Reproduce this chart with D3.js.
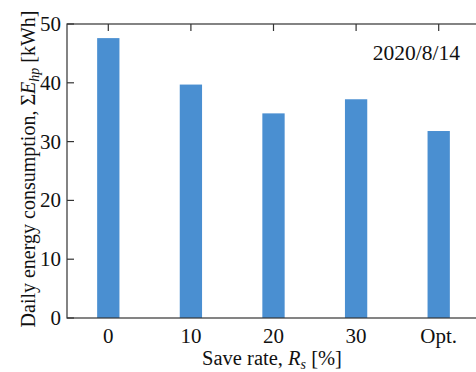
<!DOCTYPE html>
<html>
<head>
<meta charset="utf-8">
<script src="https://cdn.jsdelivr.net/npm/d3@7"></script>
<style>
  body { margin: 0; background: #fff; }
  svg text { font-family: "Liberation Serif", "DejaVu Serif", serif; fill: #111; }
</style>
</head>
<body>
<div id="chart"></div>
<script>
const categories = ['0', '10', '20', '30', 'Opt.'];
const energy = [47.6, 39.7, 34.8, 37.2, 31.8];
const yTicks = [0, 10, 20, 30, 40, 50];
const dateLabel = '2020/8/14';

const width = 476, height = 372;
const margin = { left: 67, top: 24, right: -4, bottom: 54 };
const barColor = '#4a8fd1';

const svg = d3.select('#chart').append('svg')
    .attr('width', width)
    .attr('height', height);

const x = d3.scaleBand()
    .domain(categories)
    .range([margin.left, width - margin.right])
    .paddingInner(0.73)
    .paddingOuter(0.365);

const y = d3.scaleLinear()
    .domain([0, 50])
    .range([height - margin.bottom, margin.top]);

// bars
svg.append('g')
    .selectAll('rect')
    .data(energy)
    .join('rect')
    .attr('x', (d, i) => x(categories[i]))
    .attr('width', x.bandwidth())
    .attr('y', d => y(d))
    .attr('height', d => y(0) - y(d))
    .style('fill', barColor);

// frame
svg.append('rect')
    .attr('x', margin.left)
    .attr('y', margin.top)
    .attr('width', width - margin.right - margin.left)
    .attr('height', y(0) - margin.top)
    .style('fill', 'none')
    .style('stroke', '#333')
    .style('stroke-width', 1.2);

// y ticks (inward)
const yAxis = svg.append('g');
yTicks.forEach(t => {
    yAxis.append('line')
        .attr('x1', margin.left).attr('x2', margin.left + 7)
        .attr('y1', y(t)).attr('y2', y(t))
        .style('stroke', '#333').style('stroke-width', 1.2);
    yAxis.append('text')
        .attr('x', margin.left - 6)
        .attr('y', y(t) + 7)
        .attr('text-anchor', 'end')
        .style('font-size', '21px')
        .text(t);
});

// x ticks (top inward) and labels
const xAxis = svg.append('g');
categories.forEach(c => {
    const cx = x(c) + x.bandwidth() / 2;
    xAxis.append('line')
        .attr('x1', cx).attr('x2', cx)
        .attr('y1', margin.top).attr('y2', margin.top + 7)
        .style('stroke', '#333').style('stroke-width', 1.2);
    xAxis.append('text')
        .attr('x', cx)
        .attr('y', 343)
        .attr('text-anchor', 'middle')
        .style('font-size', '21px')
        .text(c);
});

// x label
const xl = svg.append('text')
    .attr('x', 272)
    .attr('y', 365)
    .attr('text-anchor', 'middle')
    .style('font-size', '20.5px');
xl.append('tspan').text('Save rate, ');
xl.append('tspan').style('font-style', 'italic').text('R');
xl.append('tspan').style('font-style', 'italic').style('font-size', '14px').attr('dy', 4).text('s');
xl.append('tspan').attr('dy', -4).text(' [%]');

// y label
const yl = svg.append('text')
    .attr('transform', 'translate(35,169) rotate(-90)')
    .attr('text-anchor', 'middle')
    .style('font-size', '20px');
yl.append('tspan').text('Daily energy consumption, \u03A3');
yl.append('tspan').style('font-style', 'italic').text('E');
yl.append('tspan').style('font-style', 'italic').style('font-size', '14px').attr('dy', 4).text('hp');
yl.append('tspan').attr('dy', -4).text(' [kWh]');

// date
svg.append('text')
    .attr('x', 460)
    .attr('y', 60)
    .attr('text-anchor', 'end')
    .style('font-size', '21.5px')
    .text(dateLabel);
</script>
</body>
</html>
